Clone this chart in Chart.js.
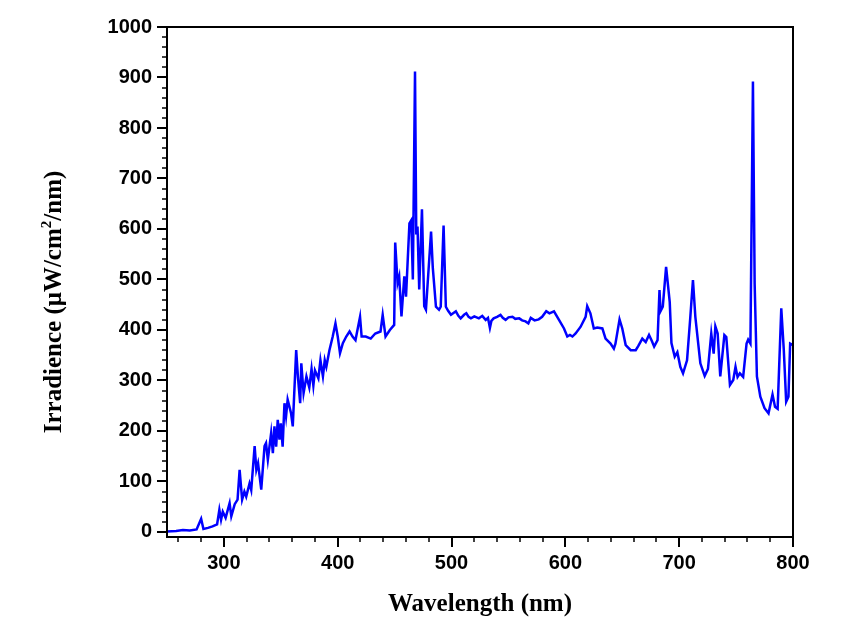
<!DOCTYPE html>
<html>
<head>
<meta charset="utf-8">
<script src="https://cdn.jsdelivr.net/npm/chart.js@4.4.1/dist/chart.umd.min.js"></script>
<style>
html,body{margin:0;padding:0;background:#fff;}
#wrap{width:849px;height:617px;}
</style>
</head>
<body>
<div id="wrap"><canvas id="c" width="849" height="617"></canvas></div>
<script>
const wavelengths = [250,258,264,270,276,280,282,286,290,294,296,297.5,299,301.5,305,306.5,309.5,312,313.8,316,318,319.6,322.5,324,327,328.5,330,332.8,335.7,337,338.6,341.5,343,344.4,345.9,347.3,348.8,350,351.6,353.2,354.6,356,359,360.5,363.5,365,367,368,370,372.5,375,377,378.6,380,383,384.8,387,388.6,390,392.7,395.6,398,400,402,404.5,407.5,410.4,413,415.6,419.6,421,424.6,429,433,437.6,439.5,442,445.8,449.6,450.5,452.6,454,456,458.5,460,463,464.6,466,467.9,469,470.1,471.6,474,476,477.5,482,483.5,486.3,489,490.5,493,495,497,499.5,502,503.8,506,508,511,513,515,517,520,524,527,530,532,533.7,535,537,540,543,545,547.5,550,553.5,556,559.5,562,565,567.5,569.6,573,576.6,579.6,583.2,586,590,594.4,598.8,601.7,604,606.2,609,613.3,617.8,619.2,622,625,628,632.5,635.3,639.7,642.6,644,647.6,650,653,657.4,661.8,664,667.6,670.6,673.5,676,678,681,682.7,683.6,685.6,688.5,691.7,693.2,696.1,698.4,701,703.4,706.9,709.8,712.1,714.2,718.6,722.4,725.3,728.2,730.3,731.8,733.8,736.1,739.7,741.4,744.6,747.5,749.5,751.3,753.3,756.2,759.2,760.6,762.6,764.8,766.3,768.3,771.3,775,778.5,782,784.2,786.5,789.7,791.9,794,796,797.5,800];
const irradiance = [1,2,4,3,5,26,6,8,11,15,44,24,40,28,57,31,55,64,123,64,80,70,96,83,170,123,136,84,170,176,143,196,156,209,169,222,183,215,169,255,229,262,235,209,360,308,255,334,275,308,286,323,290,320,304,340,308,340,327,360,387,413,387,354,374,387,397,387,380,426,387,387,383,393,397,430,387,400,410,573,493,506,427,506,466,611,617,500,912,589,605,480,639,447,440,595,524,446,440,446,607,446,438,430,434,437,428,423,430,433,426,423,427,423,428,420,424,404,418,423,426,430,424,420,425,426,422,423,419,417,413,424,419,421,426,437,433,437,420,403,387,390,387,393,406,426,447,433,403,405,403,383,373,363,373,421,403,370,360,360,368,383,376,390,378,367,380,479,437,446,525,455,374,347,356,327,314,340,426,499,426,334,309,323,393,353,407,393,308,390,386,291,301,327,307,314,307,373,381,373,892,492,308,268,245,235,272,248,244,443,361,258,268,373,370];
const xTicks = [300,400,500,600,700,800];
const yTicks = [0,100,200,300,400,500,600,700,800,900,1000];
const xTitle = 'Wavelength (nm)';
const yTitleParts = ['Irradience (μW/cm', '2', '/nm)'];

const frameTicks = {
  id: 'frameTicks',
  afterDraw(chart) {
    const ctx = chart.ctx, a = chart.chartArea;
    const xs = chart.scales.x, ys = chart.scales.y;
    ctx.save();
    ctx.strokeStyle = '#000';
    ctx.lineWidth = 2;
    ctx.strokeRect(a.left, a.top, a.right - a.left, a.bottom - a.top);
    for (let v = 260; v <= 800; v += 20) {
      const px = Math.round(xs.getPixelForValue(v));
      const major = v % 100 === 0;
      ctx.lineWidth = major ? 2 : 1.5;
      ctx.beginPath();
      ctx.moveTo(px, a.bottom);
      ctx.lineTo(px, a.bottom + (major ? 10 : 5));
      ctx.stroke();
    }
    for (let v = 0; v <= 1000; v += 20) {
      const py = Math.round(ys.getPixelForValue(v));
      const major = v % 100 === 0;
      ctx.lineWidth = major ? 2 : 1.5;
      ctx.beginPath();
      ctx.moveTo(a.left, py);
      ctx.lineTo(a.left - (major ? 10 : 5), py);
      ctx.stroke();
    }
    ctx.fillStyle = '#000';
    ctx.font = 'bold 25px "Liberation Serif"';
    ctx.textAlign = 'center';
    ctx.textBaseline = 'middle';
    ctx.fillText(xTitle, (a.left + a.right) / 2, 605);
    ctx.translate(55, 302);
    ctx.rotate(-Math.PI / 2);
    ctx.textAlign = 'left';
    ctx.textBaseline = 'middle';
    const big = 'bold 25px "Liberation Serif"', small = 'bold 15px "Liberation Serif"';
    ctx.font = big; const w1 = ctx.measureText(yTitleParts[0]).width;
    const w3 = ctx.measureText(yTitleParts[2]).width;
    ctx.font = small; const w2 = ctx.measureText(yTitleParts[1]).width;
    let x0 = -(w1 + w2 + w3) / 2;
    ctx.font = big; ctx.fillText(yTitleParts[0], x0, 0);
    ctx.font = small; ctx.fillText(yTitleParts[1], x0 + w1, -8);
    ctx.font = big; ctx.fillText(yTitleParts[2], x0 + w1 + w2, 0);
    ctx.restore();
  }
};

const tickFont = {family: 'Liberation Sans', weight: 'bold', size: 20};

new Chart(document.getElementById('c'), {
  type: 'line',
  data: {
    datasets: [{
      data: wavelengths.map((w, i) => ({x: w, y: irradiance[i]})),
      borderColor: '#0000FF',
      borderWidth: 2.5,
      pointRadius: 0,
      tension: 0,
      fill: false
    }]
  },
  options: {
    responsive: false,
    animation: false,
    layout: {padding: {top: 27, right: 56, left: 0, bottom: 0}},
    plugins: {legend: {display: false}, tooltip: {enabled: false}},
    scales: {
      x: {
        type: 'linear', min: 250, max: 800,
        afterBuildTicks: s => { s.ticks = xTicks.map(v => ({value: v})); },
        afterFit: s => { s.height = 80; },
        grid: {display: false, drawTicks: false},
        border: {display: false},
        ticks: {padding: 14, color: '#000', font: tickFont, maxRotation: 0, callback: v => String(v)}
      },
      y: {
        type: 'linear', min: -10, max: 1000,
        afterBuildTicks: s => { s.ticks = yTicks.map(v => ({value: v})); },
        afterFit: s => { s.width = 167; },
        grid: {display: false, drawTicks: false},
        border: {display: false},
        ticks: {padding: 15, color: '#000', font: tickFont, callback: v => String(v)}
      }
    }
  },
  plugins: [frameTicks]
});
</script>
</body>
</html>
